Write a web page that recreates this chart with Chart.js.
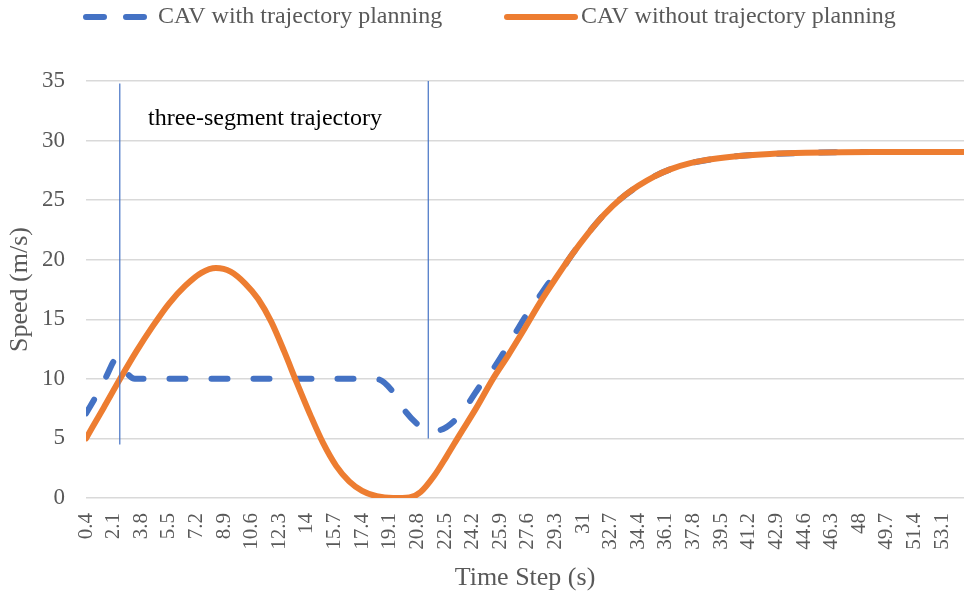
<!DOCTYPE html>
<html><head><meta charset="utf-8">
<script src="https://cdn.jsdelivr.net/npm/chart.js@4.4.1/dist/chart.umd.min.js"></script>
<style>html,body{margin:0;padding:0;background:#fff}#wrap{width:964px;height:596px}</style>
</head><body><div id="wrap"><canvas id="c"></canvas></div>
<script>
const seriesNames = ['CAV with trajectory planning', 'CAV without trajectory planning'];
const timeWith = [0.4, 1.0, 1.65, 2.3, 2.9, 3.4, 5, 8, 11, 14, 17, 18.4, 19.3, 20.1, 20.9, 21.5, 22.1, 23.1, 24.0, 24.7, 25.55, 26.2, 26.9, 27.5, 28.3, 28.95, 29.6, 30.3, 31.3, 32.3, 33.3, 34.4, 35.4, 36.4, 37.6, 39.0, 40.6, 42.5, 44.7, 48.8, 54.4];
const speedWith = [7.1, 8.5, 10.2, 11.7, 10.5, 10.0, 10, 10, 10, 10, 10, 9.95, 8.9, 7.2, 6.1, 5.7, 5.7, 6.5, 8.07, 9.5, 11.0, 12.4, 14.0, 15.35, 16.9, 18.15, 19.0, 20.4, 22.2, 23.8, 25.1, 26.2, 27.0, 27.6, 28.1, 28.45, 28.7, 28.87, 28.97, 29.05, 29.05];
const timeWithout = [0.4, 1.5, 2.5, 3.5, 4.5, 5.5, 6.5, 7.5, 8.4, 9.3, 10.2, 11.0, 11.8, 12.6, 13.4, 14.2, 15.0, 15.8, 16.6, 17.4, 18.3, 19.3, 20.3, 21.0, 21.8, 22.6, 23.4, 24.4, 25.45, 26.4, 27.3, 28.3, 29.3, 30.3, 31.3, 32.3, 33.3, 34.4, 35.4, 36.4, 37.6, 39.0, 40.6, 42.5, 44.7, 48.8, 54.4];
const speedWithout = [5.0, 7.6, 10.0, 12.3, 14.4, 16.3, 17.8, 18.9, 19.3, 19.0, 18.0, 16.7, 14.8, 12.3, 9.6, 7.0, 4.6, 2.7, 1.4, 0.6, 0.15, 0.0, 0.05, 0.5, 1.8, 3.5, 5.3, 7.5, 10.0, 12.0, 14.0, 16.3, 18.4, 20.4, 22.2, 23.8, 25.1, 26.2, 27.0, 27.6, 28.1, 28.45, 28.7, 28.87, 28.97, 29.05, 29.05];
const xTickLabels = ['0.4','2.1','3.8','5.5','7.2','8.9','10.6','12.3','14','15.7','17.4','19.1','20.8','22.5','24.2','25.9','27.6','29.3','31','32.7','34.4','36.1','37.8','39.5','41.2','42.9','44.6','46.3','48','49.7','51.4','53.1'];
const yTickValues = [0, 5, 10, 15, 20, 25, 30, 35];
const markerTimes = [2.48, 21.47];
const markerLow = [4.5, 5.0];
const markerHigh = [34.8, 35.0];
const annotationText = 'three-segment trajectory';
const annotationPos = [4.22, 31.8];

const SERIF = '"Liberation Serif", "Times New Roman", serif';
const GREY = '#595959';
const BLUE = '#4472C4';
const ORANGE = '#ED7D31';

const toXY = (ts, vs) => ts.map((t, i) => ({x: t, y: vs[i]}));

const markerSets = markerTimes.map((t, k) => ({
  label: 'marker' + k,
  data: [{x: t, y: markerLow[k]}, {x: t, y: markerHigh[k]}],
  borderColor: BLUE, borderWidth: 1.2, pointRadius: 0, tension: 0, order: 0
}));

const overlay = {
  id: 'overlay',
  afterDraw(chart) {
    const ctx = chart.ctx, xs = chart.scales.x, ys = chart.scales.y;
    ctx.save();
    const ly = 17;
    ctx.lineCap = 'round';
    ctx.lineWidth = 6;
    ctx.strokeStyle = BLUE;
    ctx.setLineDash([18, 22]);
    ctx.beginPath(); ctx.moveTo(86, ly); ctx.lineTo(144, ly); ctx.stroke();
    ctx.setLineDash([]);
    ctx.strokeStyle = ORANGE;
    ctx.beginPath(); ctx.moveTo(507, ly); ctx.lineTo(575, ly); ctx.stroke();
    ctx.fillStyle = GREY;
    ctx.font = '24px ' + SERIF;
    ctx.textBaseline = 'middle';
    ctx.textAlign = 'left';
    ctx.fillText(seriesNames[0], 158, ly);
    ctx.fillText(seriesNames[1], 581, ly);
    ctx.fillStyle = '#000';
    ctx.fillText(annotationText, xs.getPixelForValue(annotationPos[0]), ys.getPixelForValue(annotationPos[1]));
    ctx.restore();
  }
};

new Chart(document.getElementById('c'), {
  type: 'line',
  data: {
    datasets: [
      ...markerSets,
      {
        label: seriesNames[1], data: toXY(timeWithout, speedWithout),
        borderColor: ORANGE, borderWidth: 6, borderCapStyle: 'round', borderJoinStyle: 'round',
        pointRadius: 0, cubicInterpolationMode: 'monotone', order: 1
      },
      {
        label: seriesNames[0], data: toXY(timeWith, speedWith),
        borderColor: BLUE, borderWidth: 6, borderDash: [16, 26], borderCapStyle: 'round', borderJoinStyle: 'round',
        pointRadius: 0, cubicInterpolationMode: 'monotone', order: 2
      }
    ]
  },
  options: {
    responsive: true, maintainAspectRatio: false, animation: false,
    layout: {padding: {top: 81, right: 0, bottom: 0, left: 0}},
    plugins: {legend: {display: false}, tooltip: {enabled: false}},
    scales: {
      x: {
        type: 'linear', min: 0.4, max: 54.45,
        afterBuildTicks: s => { s.ticks = xTickLabels.map(l => ({value: parseFloat(l)})); },
        ticks: {autoSkip: false, minRotation: 90, maxRotation: 90, padding: 7, color: GREY,
          font: {family: SERIF, size: 21}, callback: (v, i) => xTickLabels[i]},
        grid: {display: false}, border: {display: false},
        title: {display: true, text: 'Time Step (s)', color: GREY, font: {family: SERIF, size: 26}, padding: {top: 0, bottom: 2}},
        afterFit: s => { s.height = 98; s.paddingLeft = 0; s.paddingRight = 0; }
      },
      y: {
        min: 0, max: 35,
        afterBuildTicks: s => { s.ticks = yTickValues.map(v => ({value: v})); },
        ticks: {padding: 21, color: GREY, font: {family: SERIF, size: 23}},
        grid: {color: '#d9d9d9', lineWidth: 1.5, drawTicks: false}, border: {display: false},
        title: {display: true, text: 'Speed (m/s)', color: GREY, font: {family: SERIF, size: 26}, padding: {top: 5, bottom: 0}},
        afterFit: s => { s.width = 86; }
      }
    }
  },
  plugins: [overlay]
});
</script>
</body></html>
